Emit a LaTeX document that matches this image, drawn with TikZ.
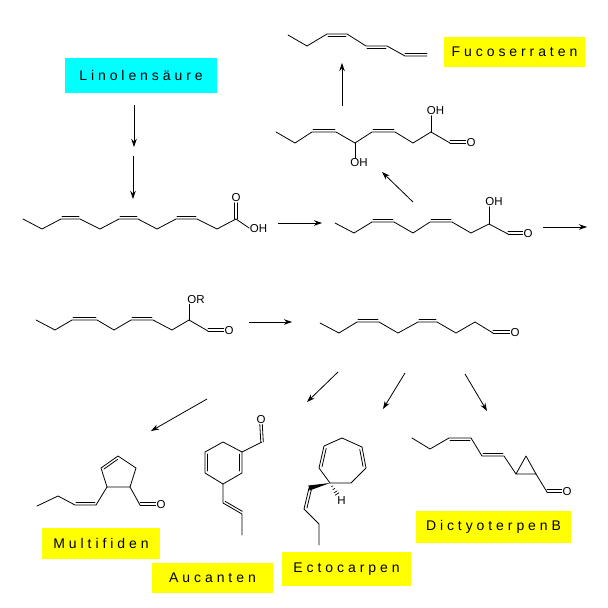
\documentclass[tikz,border=0pt]{standalone}
\usepackage{fontspec}
\setmainfont{Liberation Sans}
\usetikzlibrary{arrows.meta,calc}
\definecolor{boxcyan}{RGB}{0,255,255}
\definecolor{boxyellow}{RGB}{255,255,0}
\newcommand{\boxfont}{\fontsize{14}{16}\selectfont\addfontfeature{LetterSpace=28}}
\newcommand{\atomfont}{\fontsize{11.5}{13}\selectfont}
\begin{document}
\begin{tikzpicture}[x=1pt,y=-1pt,
  bond/.style={line width=0.8pt,line cap=round,line join=round},
  atom/.style={font=\atomfont,inner sep=0.6pt},
  namebox/.style={font=\boxfont,inner sep=0pt,anchor=center},
  arr/.style={line width=0.8pt,-{Stealth[length=8pt,width=5.5pt,inset=2.5pt]}}]
\fill[white] (0,0) rectangle (608,608);
\useasboundingbox (0,0) rectangle (608,608);
\newcommand{\dbl}[4]{\draw[bond,shorten <=#4pt,shorten >=#4pt] ($(#1)+#3$) -- ($(#2)+#3$);}

% ---------- labels ----------
\node[namebox,fill=boxcyan,minimum width=152pt,minimum height=35pt] (lin) at (141,75.5) {Linolensäure};
\node[namebox,fill=boxyellow,minimum width=141pt,minimum height=30pt] (fuc) at (514.5,52) {Fucoserraten};
\node[namebox,fill=boxyellow,minimum width=118pt,minimum height=31pt] (mul) at (101,543.5) {Multifiden};
\node[namebox,fill=boxyellow,minimum width=121pt,minimum height=30pt] (auc) at (212.5,578) {Aucanten};
\node[namebox,fill=boxyellow,minimum width=129pt,minimum height=34pt] (ect) at (346.5,569) {Ectocarpen};
\node[namebox,fill=boxyellow,minimum width=155pt,minimum height=32pt] (dic) at (493.5,527) {DictyoterpenB};

% ---------- arrows ----------
\coordinate (a1s) at (134,105); \coordinate (a1e) at (134,147);
\coordinate (a2s) at (133,156); \coordinate (a2e) at (133,199);
\coordinate (a3s) at (278,223); \coordinate (a3e) at (322,223);
\coordinate (a4s) at (543,227); \coordinate (a4e) at (587,227);
\coordinate (a5s) at (413,202); \coordinate (a5e) at (382,172);
\coordinate (a6s) at (342,106); \coordinate (a6e) at (342,63);
\coordinate (a7s) at (249,322); \coordinate (a7e) at (292,322);
\coordinate (a8s) at (338,372); \coordinate (a8e) at (307,402);
\coordinate (a9s) at (405,373); \coordinate (a9e) at (383,409);
\coordinate (a10s) at (465,374); \coordinate (a10e) at (487,411);
\coordinate (a11s) at (207,399); \coordinate (a11e) at (151,431);
\foreach \i in {1,...,11} {\draw[arr] (a\i s) -- (a\i e);}

% ---------- linolenic acid ----------
\foreach \n/\px/\py in {1/23/219,2/42/229,3/61/219,4/80/219,5/100/229,6/119/219,7/138/219,8/157/229,9/176/219,10/197/219,11/217/229,12/236/219}
  {\coordinate (p\n) at (\px,\py);}
\draw[bond] (p1)--(p2)--(p3)--(p4)--(p5)--(p6)--(p7)--(p8)--(p9)--(p10)--(p11)--(p12);
\dbl{p3}{p4}{(0,-2.4)}{1}
\dbl{p6}{p7}{(0,-2.4)}{1}
\dbl{p9}{p10}{(0,-2.4)}{1}
\node[atom] (pO) at (236,198) {O};
\node[atom] (pOH) at (258.5,229) {OH};
\draw[bond] ($(p12)+(-1.2,0)$) -- ($(pO.south)+(-1.2,0)$);
\draw[bond] ($(p12)+(1.3,0)$) -- ($(pO.south)+(1.3,0)$);
\draw[bond] (p12) -- ($(pOH.west)+(0,-1)$);

% ---------- 2-hydroxy aldehyde (right) ----------
\foreach \n/\px/\py in {1/335/223,2/354/233,3/372/222,4/394/222,5/413/233,6/430/222,7/452/222,8/471/233,9/489/224,10/508/234}
  {\coordinate (q\n) at (\px,\py);}
\draw[bond] (q1)--(q2)--(q3)--(q4)--(q5)--(q6)--(q7)--(q8)--(q9)--(q10);
\dbl{q3}{q4}{(0,-2.4)}{1}
\dbl{q6}{q7}{(0,-2.4)}{1}
\node[atom] (qOH) at (494,202) {OH};
\node[atom] (qO) at (528,233.5) {O};
\draw[bond] (q9) -- (q9 |- qOH.south);
\draw[bond] (q10) -- (q10 -| qO.west);
\dbl{q10}{q10 -| qO.west}{(0,-2.4)}{0}

% ---------- diol ----------
\foreach \n/\px/\py in {1/276/132,2/295/143,3/312/132,4/336/132,5/355/143,6/372/132,7/395/132,8/413/143,9/431/132,10/450/143}
  {\coordinate (d\n) at (\px,\py);}
\draw[bond] (d1)--(d2)--(d3)--(d4)--(d5)--(d6)--(d7)--(d8)--(d9)--(d10);
\dbl{d3}{d4}{(0,-2.4)}{1}
\dbl{d6}{d7}{(0,-2.4)}{1}
\node[atom] (dOHa) at (435.5,111) {OH};
\node[atom] (dOHb) at (359,163) {OH};
\node[atom] (dO) at (471,142.5) {O};
\draw[bond] (d9) -- (d9 |- dOHa.south);
\draw[bond] (d5) -- (d5 |- dOHb.north);
\draw[bond] (d10) -- (d10 -| dO.west);
\dbl{d10}{d10 -| dO.west}{(0,-2.4)}{0}

% ---------- Fucoserraten triene ----------
\foreach \n/\px/\py in {1/288/35,2/307/46,3/327/34,4/347/34,5/366/46,6/387/46,7/405/56,8/427/56}
  {\coordinate (t\n) at (\px,\py);}
\draw[bond] (t1)--(t2)--(t3)--(t4)--(t5)--(t6)--(t7)--(t8);
\dbl{t3}{t4}{(0,2.4)}{1}
\dbl{t5}{t6}{(0,2.4)}{1}
\dbl{t7}{t8}{(0,-2.4)}{0}

% ---------- OR aldehyde ----------
\foreach \n/\px/\py in {1/36/320,2/55/330,3/72/320,4/97/320,5/114/330,6/131/320,7/153/320,8/172/330,9/189/320,10/208/331}
  {\coordinate (r\n) at (\px,\py);}
\draw[bond] (r1)--(r2)--(r3)--(r4)--(r5)--(r6)--(r7)--(r8)--(r9)--(r10);
\dbl{r3}{r4}{(0,-2.4)}{1}
\dbl{r6}{r7}{(0,-2.4)}{1}
\node[atom] (rOR) at (196,299.5) {OR};
\node[atom] (rO) at (229,330.5) {O};
\draw[bond] (r9) -- (r9 |- rOR.south);
\draw[bond] (r10) -- (r10 -| rO.west);
\dbl{r10}{r10 -| rO.west}{(0,-2.4)}{0}

% ---------- aldehyde ----------
\foreach \n/\px/\py in {1/320/323,2/339/333,3/357/322,4/379/322,5/398/333,6/418/322,7/437/322,8/456/333,9/475/322,10/493/333}
  {\coordinate (b\n) at (\px,\py);}
\draw[bond] (b1)--(b2)--(b3)--(b4)--(b5)--(b6)--(b7)--(b8)--(b9)--(b10);
\dbl{b3}{b4}{(0,-2.4)}{1}
\dbl{b6}{b7}{(0,-2.4)}{1}
\node[atom] (bO) at (515,333) {O};
\draw[bond] (b10) -- (b10 -| bO.west);
\dbl{b10}{b10 -| bO.west}{(0,-2.4)}{0}

% ---------- Multifiden ----------
\foreach \n/\px/\py in {1/118/456,2/101/468,3/107/487,4/130/487,5/136/468,6/96/505,7/75/505,8/58/496,9/37/506,10/140/505}
  {\coordinate (f\n) at (\px,\py);}
\draw[bond] (f1)--(f2)--(f3)--(f4)--(f5)--cycle;
\draw[bond] (f3)--(f6)--(f7)--(f8)--(f9);
\draw[bond] (f4)--(f10);
\dbl{f1}{f2}{(1.3,2.2)}{2}
\dbl{f6}{f7}{(0,-2.4)}{1}
\node[atom] (fO) at (161,505) {O};
\draw[bond] (f10) -- (f10 -| fO.west);
\dbl{f10}{f10 -| fO.west}{(0,-2.4)}{0}

% ---------- Aucanten ----------
\foreach \n/\px/\py in {1/223/442,2/242/452,3/242/473,4/223/484,5/205/473,6/205/452,7/262/442,8/223/503,9/242/514,10/242/535}
  {\coordinate (u\n) at (\px,\py);}
\draw[bond] (u1)--(u2)--(u3)--(u4)--(u5)--(u6)--cycle;
\draw[bond] (u2)--(u7);
\draw[bond] (u4)--(u8)--(u9)--(u10);
\dbl{u5}{u6}{(2.8,0)}{2}
\dbl{u2}{u3}{(-2.8,0)}{2}
\dbl{u8}{u9}{(1.2,-2.2)}{1}
\node[atom] (uO) at (261,419.5) {O};
\draw[bond] ($(u7)+(-1.2,0)$) -- ($(uO.south)+(-1.2,0)$);
\draw[bond] ($(u7)+(1.3,0)$) -- ($(uO.south)+(1.3,0)$);

% ---------- Ectocarpen ----------
\foreach \n/\px/\py in {1/342/438,2/362/447,3/366/468,4/351/483,5/330/483,6/319/468,7/324/446,8/309/488,9/304/509,10/319/524,11/319/545}
  {\coordinate (e\n) at (\px,\py);}
\draw[bond] (e1)--(e2)--(e3)--(e4)--(e5)--(e6)--(e7)--cycle;
\dbl{e7}{e6}{(2.6,0.6)}{2}
\dbl{e2}{e3}{(-2.6,0.5)}{2}
\fill (e5) -- ($(e8)+(0.6,2.5)$) -- ($(e8)+(-0.6,-2.5)$) -- cycle;
\draw[bond] (e8)--(e9)--(e10)--(e11);
\dbl{e8}{e9}{(2.6,0.6)}{1.5}
\node[atom] (eH) at (341.5,501) {H};
\foreach \t/\w in {0.3/0.9,0.55/1.4,0.8/1.9,1.0/2.4}
  {\draw[line width=0.7pt] ($(e5)!\t!(337,494)+(0.85*\w,-0.54*\w)$) -- ($(e5)!\t!(337,494)+(-0.85*\w,0.54*\w)$);}

% ---------- Dictyoterpen B ----------
\foreach \n/\px/\py in {1/412/438,2/430/449,3/449/438,4/471/438,5/482/456,6/504/456,7/516/474,8/536/474,9/526/456,10/547/492}
  {\coordinate (k\n) at (\px,\py);}
\draw[bond] (k1)--(k2)--(k3)--(k4)--(k5)--(k6)--(k7);
\draw[bond] (k7)--(k8)--(k9)--cycle;
\draw[bond] (k8)--(k10);
\dbl{k3}{k4}{(0,2.4)}{1}
\dbl{k5}{k6}{(0,-2.4)}{1}
\node[atom] (kO) at (567,492) {O};
\draw[bond] (k10) -- (k10 -| kO.west);
\dbl{k10}{k10 -| kO.west}{(0,-2.4)}{0}
\end{tikzpicture}
\end{document}
